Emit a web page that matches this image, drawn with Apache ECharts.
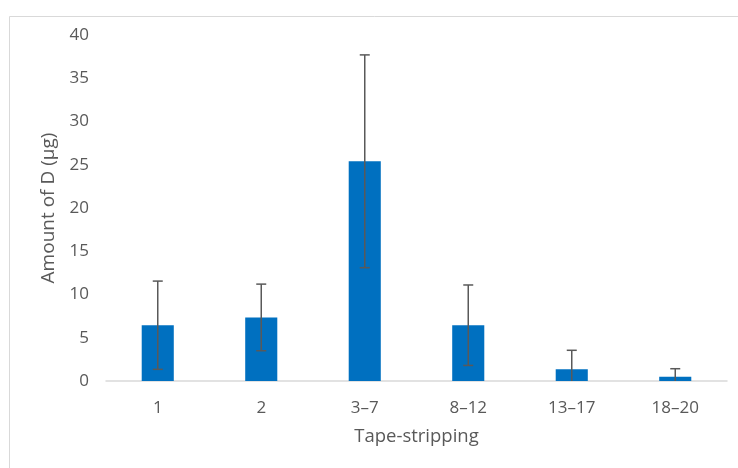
<!DOCTYPE html>
<html>
<head>
<meta charset="utf-8">
<script src="https://cdn.jsdelivr.net/npm/echarts@6/dist/echarts.min.js"></script>
<style>html,body{margin:0;padding:0;background:#fff}#c{width:738px;height:468px}</style>
</head>
<body>
<div id="c"></div>
<script>
const categories = ['1', '2', '3\u20137', '8\u201312', '13\u201317', '18\u201320'];
const means = [6.45, 7.35, 25.4, 6.45, 1.35, 0.5];
const errors = [5.1, 3.85, 12.3, 4.65, 2.2, 0.92];
const yTicks = [0, 5, 10, 15, 20, 25, 30, 35, 40];

const font = '"Open Sans", "Noto Sans", sans-serif';
const txt = '#595959';
const chart = echarts.init(document.getElementById('c'));
chart.setOption({
  animation: false,
  backgroundColor: '#fff',
  graphic: [{
    type: 'rect', shape: {x: 9.5, y: 16.5, width: 760, height: 480},
    style: {fill: 'none', stroke: '#d9d9d9', lineWidth: 1}, z: -1
  }],
  grid: {left: 106, right: 11, top: 35, bottom: 87},
  xAxis: {
    type: 'category', data: categories,
    name: 'Tape-stripping', nameLocation: 'middle', nameGap: 46,
    nameTextStyle: {fontFamily: font, fontSize: 18.5, color: txt},
    axisLine: {lineStyle: {color: '#d9d9d9', width: 1.5}},
    axisTick: {show: false},
    axisLabel: {fontFamily: font, fontSize: 17, color: txt, margin: 19}
  },
  yAxis: {
    type: 'value', min: yTicks[0], max: yTicks[yTicks.length - 1], interval: 5,
    name: 'Amount of D (\u00b5g)', nameLocation: 'middle', nameGap: 48, nameRotate: 90,
    nameTextStyle: {fontFamily: font, fontSize: 19, color: txt},
    axisLine: {show: false}, axisTick: {show: false}, splitLine: {show: false},
    axisLabel: {fontFamily: font, fontSize: 17, color: txt, margin: 17}
  },
  series: [{
    type: 'bar', data: means, barWidth: '31%',
    itemStyle: {color: '#0070c0'}
  }, {
    type: 'custom',
    data: means.map((m, i) => [i, m, errors[i]]),
    renderItem: function (params, api) {
      const i = api.value(0), m = api.value(1), e = api.value(2);
      const lo = Math.max(0, m - e), hi = m + e;
      const pHi = api.coord([i, hi]);
      const pLo = api.coord([i, lo]);
      const half = 5;
      const style = {stroke: '#595959', lineWidth: 1.5};
      const children = [
        {type: 'line', shape: {x1: pHi[0], y1: pHi[1], x2: pLo[0], y2: pLo[1]}, style},
        {type: 'line', shape: {x1: pHi[0] - half, y1: pHi[1], x2: pHi[0] + half, y2: pHi[1]}, style}
      ];
      if (m - e >= 0) {
        children.push({type: 'line', shape: {x1: pLo[0] - half, y1: pLo[1], x2: pLo[0] + half, y2: pLo[1]}, style});
      }
      return {type: 'group', children};
    },
    z: 5
  }]
});
</script>
</body>
</html>
